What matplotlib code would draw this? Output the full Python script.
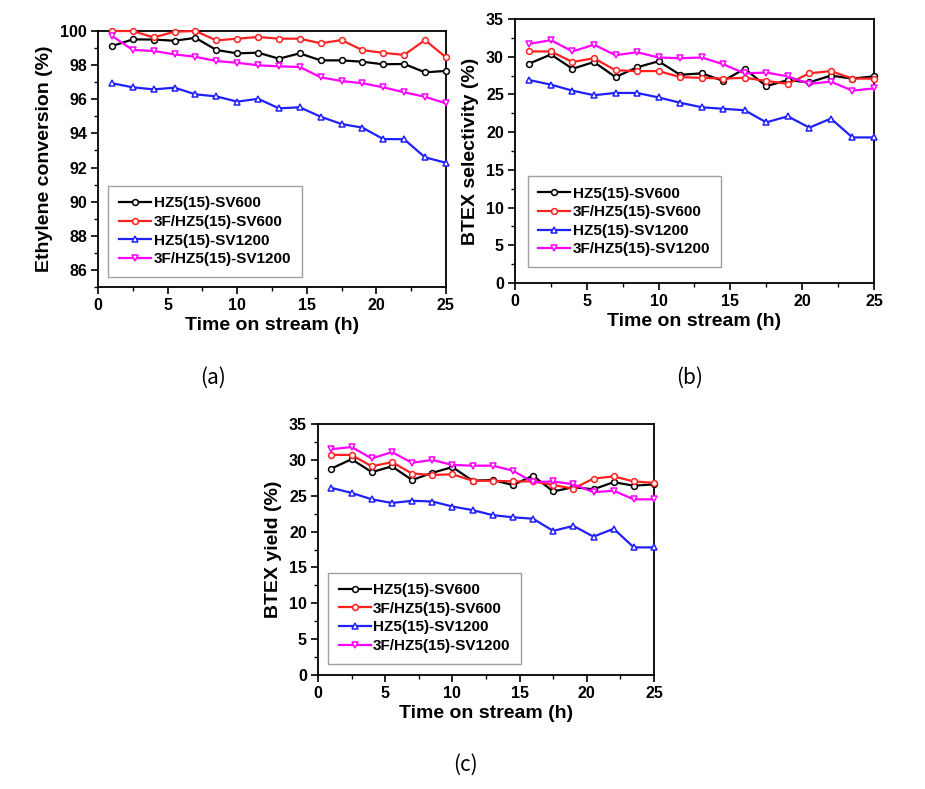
import matplotlib
matplotlib.use('Agg')
from matplotlib import pyplot as plt
from matplotlib.ticker import MultipleLocator

plt.rcParams['font.family'] = ['Liberation Sans', 'DejaVu Sans']

# time on stream (h)
time_h = [1, 2.5, 4, 5.5, 7, 8.5, 10, 11.5, 13, 14.5, 16, 17.5, 19, 20.5, 22, 23.5, 25]

names = ['HZ5(15)-SV600', '3F/HZ5(15)-SV600', 'HZ5(15)-SV1200', '3F/HZ5(15)-SV1200']

# (a) ethylene conversion (%)
conv_sv600 = [99.12, 99.51, 99.5, 99.43, 99.6, 98.89, 98.69, 98.73, 98.38, 98.69, 98.28, 98.28, 98.2, 98.05, 98.07, 97.58, 97.66]
conv_f_sv600 = [100.0, 100.0, 99.62, 99.96, 100.0, 99.45, 99.55, 99.65, 99.55, 99.55, 99.28, 99.47, 98.88, 98.72, 98.6, 99.47, 98.46]
conv_sv1200 = [96.94, 96.7, 96.58, 96.68, 96.29, 96.17, 95.86, 96.03, 95.47, 95.53, 94.98, 94.55, 94.34, 93.67, 93.66, 92.6, 92.28]
conv_f_sv1200 = [99.71, 98.89, 98.83, 98.63, 98.49, 98.24, 98.14, 97.99, 97.93, 97.89, 97.29, 97.07, 96.94, 96.7, 96.41, 96.15, 95.76]

# (b) BTEX selectivity (%)
sel_sv600 = [29.1, 30.3, 28.4, 29.3, 27.3, 28.6, 29.4, 27.6, 27.8, 26.8, 28.4, 26.1, 26.9, 26.6, 27.5, 27.1, 27.4]
sel_f_sv600 = [30.7, 30.7, 29.3, 29.8, 28.2, 28.1, 28.1, 27.3, 27.2, 27.1, 27.2, 26.8, 26.4, 27.8, 28.1, 27.1, 27.1]
sel_sv1200 = [26.9, 26.3, 25.5, 24.9, 25.2, 25.2, 24.6, 23.9, 23.3, 23.1, 22.9, 21.3, 22.1, 20.6, 21.8, 19.3, 19.3]
sel_f_sv1200 = [31.7, 32.2, 30.7, 31.6, 30.2, 30.6, 29.9, 29.8, 29.9, 29.0, 27.8, 27.9, 27.4, 26.4, 26.7, 25.5, 25.8]

# (c) BTEX yield (%)
yld_sv600 = [28.8, 30.1, 28.3, 29.1, 27.2, 28.2, 29.0, 27.1, 27.2, 26.5, 27.8, 25.6, 26.2, 25.9, 26.9, 26.4, 26.6]
yld_f_sv600 = [30.7, 30.7, 29.1, 29.7, 28.1, 27.9, 28.0, 27.1, 27.1, 27.0, 27.0, 26.5, 26.0, 27.4, 27.7, 27.0, 26.8]
yld_sv1200 = [26.1, 25.4, 24.5, 24.0, 24.3, 24.2, 23.5, 23.0, 22.3, 22.0, 21.8, 20.1, 20.8, 19.3, 20.4, 17.8, 17.8]
yld_f_sv1200 = [31.5, 31.8, 30.2, 31.1, 29.6, 30.0, 29.3, 29.2, 29.2, 28.5, 26.9, 27.0, 26.6, 25.5, 25.7, 24.5, 24.5]

colors = ['#000000', '#ff2020', '#2020ff', '#ff00ff']
markers = ['o', 'o', '^', 'v']

fig = plt.figure(figsize=(9.25, 7.89), dpi=100)
ax_a = fig.add_axes([0.106, 0.6362, 0.376, 0.3245])
ax_b = fig.add_axes([0.5568, 0.6413, 0.388, 0.3346])
ax_c = fig.add_axes([0.3438, 0.1445, 0.3632, 0.318])


def draw(ax, series, ylabel, ylim, yticks, yminor, legend_box):
    for vals, name, c, m in zip(series, names, colors, markers):
        ax.plot(time_h, vals, color=c, marker=m, markersize=4.2, markerfacecolor='white',
                markeredgecolor=c, markeredgewidth=1.1, linewidth=1.6, label=name,
                clip_on=False, zorder=3)
    ax.set_xlim(0, 25)
    ax.set_ylim(*ylim)
    ax.xaxis.set_major_locator(MultipleLocator(5))
    ax.xaxis.set_minor_locator(MultipleLocator(2.5))
    ax.set_yticks(yticks)
    ax.yaxis.set_minor_locator(MultipleLocator(yminor))
    ax.tick_params(which='major', direction='out', length=5, width=1.2, labelsize=11.5, pad=3)
    ax.tick_params(which='minor', direction='out', length=3, width=1)
    for lab in ax.get_xticklabels() + ax.get_yticklabels():
        lab.set_fontweight('bold')
    for sp in ax.spines.values():
        sp.set_linewidth(1.3)
    ax.set_xlabel('Time on stream (h)', fontsize=14, fontweight='bold', labelpad=3)
    ax.set_ylabel(ylabel, fontsize=14, fontweight='bold', labelpad=5)
    leg = ax.legend(loc='lower left', bbox_to_anchor=legend_box,
                    prop={'weight': 'bold', 'size': 11}, frameon=True, fancybox=False,
                    handlelength=2.1, handletextpad=0.15, labelspacing=0.3,
                    borderpad=0.7, borderaxespad=0)
    leg.get_frame().set_edgecolor('#888888')
    leg.get_frame().set_linewidth(1.0)


draw(ax_a, [conv_sv600, conv_f_sv600, conv_sv1200, conv_f_sv1200],
     'Ethylene conversion (%)', (85, 100), [86, 88, 90, 92, 94, 96, 98, 100], 1, (0.03, 0.04))
draw(ax_b, [sel_sv600, sel_f_sv600, sel_sv1200, sel_f_sv1200],
     'BTEX selectivity (%)', (0, 35), [0, 5, 10, 15, 20, 25, 30, 35], 2.5, (0.035, 0.06))
draw(ax_c, [yld_sv600, yld_f_sv600, yld_sv1200, yld_f_sv1200],
     'BTEX yield (%)', (0, 35), [0, 5, 10, 15, 20, 25, 30, 35], 2.5, (0.03, 0.045))

cap = dict(fontsize=15, ha='center', va='center', family=['Noto Sans CJK KR', 'DejaVu Sans'],
           fontweight='light')
fig.text(213 / 925, 1 - 378 / 789, '(a)', **cap)
fig.text(690 / 925, 1 - 378 / 789, '(b)', **cap)
fig.text(465 / 925, 1 - 765 / 789, '(c)', **cap)

fig.savefig('out.png', dpi=100)
